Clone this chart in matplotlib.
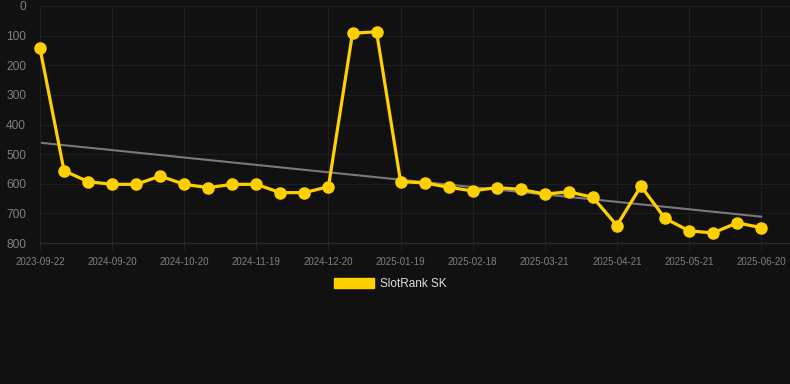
import numpy as np
import matplotlib
matplotlib.use("Agg")
import matplotlib.pyplot as plt
from matplotlib.patches import Patch

plt.rcParams['font.family'] = ['Liberation Sans', 'DejaVu Sans']

# rank per observation (lower = better), evenly spaced on the x axis
ranks = [143, 556, 593, 602, 602, 574, 602, 613, 602, 602, 630, 630, 610,
         92, 87, 593, 597, 612, 624, 613, 619, 635, 627, 646, 741, 608,
         717, 759, 766, 732, 748]
tick_labels = ['2023-09-22', '2024-09-20', '2024-10-20', '2024-11-19',
               '2024-12-20', '2025-01-19', '2025-02-18', '2025-03-21',
               '2025-04-21', '2025-05-21', '2025-06-20']
series_name = 'SlotRank SK'

bg = '#111111'
yellow = '#FFD000'

x = np.arange(len(ranks))
fit = np.polyfit(x, ranks, 1)
trend = np.polyval(fit, x)

fig = plt.figure(figsize=(7.9, 3.84), dpi=100, facecolor=bg)
ax = fig.add_axes([40 / 790, 1 - 243 / 384, 1 - 40 / 790, (243 - 6) / 384])
ax.set_facecolor(bg)

ax.plot(x, trend, color='#7a7a7a', lw=1.5, zorder=2)
ax.plot(x, ranks, color=yellow, lw=2.3, marker='o', ms=8,
        markeredgecolor=yellow, zorder=3, clip_on=False)

ax.set_xlim(0, 31.2)
ax.set_ylim(800, 0)
ax.set_yticks(range(0, 801, 100))
ax.set_xticks(x[::3])
ax.set_xticklabels(tick_labels)

ax.grid(True, color='#1f1f1f', lw=0.8)
ax.set_axisbelow(True)
for s in ax.spines.values():
    s.set_visible(False)
ax.spines['bottom'].set_visible(True)
ax.spines['bottom'].set_color('#2c2c2c')
ax.spines['left'].set_visible(True)
ax.spines['left'].set_color('#1f1f1f')
ax.tick_params(axis='y', colors='#1f1f1f', labelcolor='#808080',
               labelsize=8.6, length=0, pad=10)
ax.tick_params(axis='x', colors='#1f1f1f', labelcolor='#808080',
               labelsize=7, length=6, width=0.8, pad=4)

handle = Patch(facecolor=yellow, edgecolor=yellow)
leg = fig.legend([handle], [series_name], loc='center',
                 bbox_to_anchor=(390 / 790, 1 - 284 / 384), frameon=False,
                 fontsize=8.5, handlelength=3.4, handleheight=1.0,
                 handletextpad=0.5, labelcolor='#dddddd')

fig.savefig('out.png', dpi=100, facecolor=bg)
